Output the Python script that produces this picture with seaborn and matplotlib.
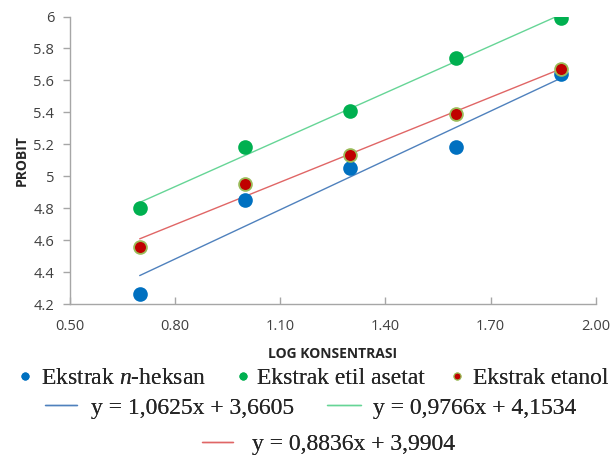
import numpy as np
import pandas as pd
import matplotlib
matplotlib.use("Agg")
import matplotlib.pyplot as plt
from matplotlib.lines import Line2D
import seaborn as sns

log_konsentrasi = [0.7, 1.0, 1.3, 1.6, 1.9]
probit_heksan = [4.26, 4.85, 5.05, 5.18, 5.64]
probit_etil = [4.80, 5.18, 5.41, 5.74, 5.99]
probit_etanol = [4.56, 4.95, 5.13, 5.39, 5.67]
series_names = ["Ekstrak $\\mathit{n}$-heksan", "Ekstrak etil asetat", "Ekstrak etanol"]
equations = ["y = 1,0625x + 3,6605", "y = 0,9766x + 4,1534", "y = 0,8836x + 3,9904"]
x_ticks = [0.50, 0.80, 1.10, 1.40, 1.70, 2.00]
y_ticks = [4.2, 4.4, 4.6, 4.8, 5.0, 5.2, 5.4, 5.6, 5.8, 6.0]

sns.set_theme(style="white")
plt.rcParams["font.family"] = ["Open Sans", "DejaVu Sans"]
plt.rcParams["mathtext.fontset"] = "custom"
plt.rcParams["mathtext.it"] = "Liberation Serif:italic"
plt.rcParams["mathtext.rm"] = "Liberation Serif"

dot_colors = ["#0070C0", "#00B050", "#C00000"]
edge_colors = ["#0070C0", "#00B050", "#9BBB59"]
line_colors = ["#4F81BD", "#66D596", "#E06666"]

W, H = 614, 458
fig = plt.figure(figsize=(W / 100, H / 100), dpi=100)
ax = fig.add_axes([69.5 / W, 1 - 304 / H, (596 - 69.5) / W, (304 - 16.5) / H])

df = pd.DataFrame({"x": log_konsentrasi * 3,
                   "y": probit_heksan + probit_etil + probit_etanol,
                   "s": ["h"] * 5 + ["e"] * 5 + ["t"] * 5})
for i, key in enumerate(["h", "e", "t"]):
    sub = df[df.s == key]
    sns.regplot(data=sub, x="x", y="y", ax=ax, ci=None, truncate=True,
                scatter=False, line_kws=dict(color=line_colors[i], lw=1.0))
for i, key in enumerate(["h", "e", "t"]):
    sub = df[df.s == key]
    sns.scatterplot(data=sub, x="x", y="y", ax=ax, color=dot_colors[i],
                    edgecolor=edge_colors[i], linewidth=1.3, s=85, zorder=5)

ax.set_xlim(0.5, 2.0)
ax.set_ylim(4.2, 6.0)
ax.set_xticks(x_ticks)
ax.set_xticklabels([f"{v:.2f}" for v in x_ticks])
ax.set_yticks(y_ticks)
ax.set_yticklabels([f"{v:g}" for v in y_ticks])
for sp in ["top", "right"]:
    ax.spines[sp].set_visible(False)
for sp in ["left", "bottom"]:
    ax.spines[sp].set_color("#A6A6A6")
    ax.spines[sp].set_linewidth(1.0)
ax.tick_params(axis="y", direction="out", length=5, width=1, color="#A6A6A6",
               labelsize=10.5, labelcolor="#404040", pad=6, left=True)
ax.tick_params(axis="x", direction="in", length=5, width=1, color="#A6A6A6",
               labelsize=10.5, labelcolor="#404040", pad=11, bottom=True)
ax.set_xlabel("LOG KONSENTRASI", fontsize=10, fontweight="bold", labelpad=9)
ax.set_ylabel("PROBIT", fontsize=10, fontweight="bold", labelpad=3.5)

fs = 17
em = fs * 100 / 72  # pixels per em
legfont = dict(family="Liberation Serif", size=fs)


def add_entry(handle, label, x_handle_left, x_handle_right, x_text, y):
    hl = (x_handle_right - x_handle_left) / em
    pad = (x_text - x_handle_right) / em
    leg = fig.legend([handle], [label], loc="center left",
                     bbox_to_anchor=(x_handle_left / W, 1 - y / H),
                     frameon=False, prop=legfont, handlelength=hl,
                     handletextpad=pad, borderpad=0, borderaxespad=0)
    fig.add_artist(leg)


# row 1: marker entries (marker centre, text start)
row1 = [(25, 41), (243, 257), (457, 473)]
for i, (mx, tx) in enumerate(row1):
    h = Line2D([], [], ls="none", marker="o", ms=5, color=dot_colors[i],
               markeredgecolor=edge_colors[i], markeredgewidth=0.8)
    add_entry(h, series_names[i], mx - 8, mx + 8, tx, 378)

# rows 2-3: trend line entries
rows_lines = [(45, 77, 91, 408), (327, 361, 373, 408), (202, 233, 252, 444)]
for i, (x0, x1, tx, y) in enumerate(rows_lines):
    h = Line2D([], [], color=line_colors[i], lw=1.0)
    add_entry(h, equations[i], x0, x1, tx, y)

fig.savefig("out.png", dpi=100)
